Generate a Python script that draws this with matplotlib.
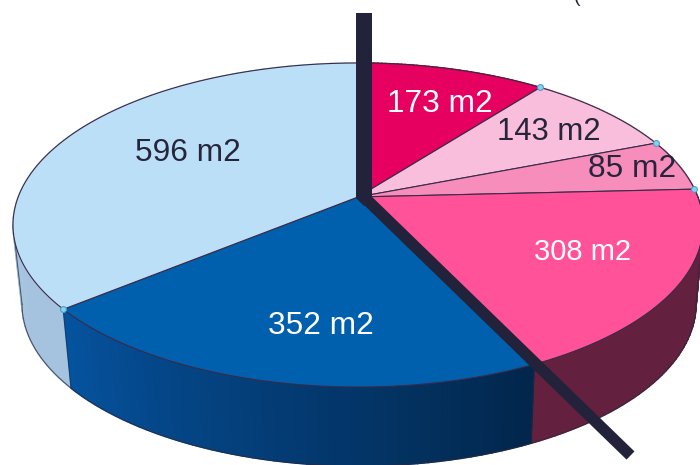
import numpy as np
import matplotlib
matplotlib.use("Agg")
import matplotlib.pyplot as plt
from matplotlib.colors import to_rgb

plt.rcParams['font.family'] = ['Liberation Sans', 'DejaVu Sans']

# Data, clockwise from 12 o'clock
labels = ["173 m2", "143 m2", "85 m2", "308 m2", "352 m2", "596 m2"]
values = [173, 143, 85, 308, 352, 596]
top_colors = ["#E6005F", "#F8BEDB", "#F78DBB", "#FF5298", "#0060AE", "#BCDFF8"]
side_left = ["#A3082F", "#B58AA0", "#B06488", "#64203F", "#05539F", "#A5C3DE"]
side_right = ["#A3082F", "#B58AA0", "#B06488", "#64203F", "#02264B", "#A9C7E2"]
text_colors = ["white", "#26263A", "#26263A", "white", "white", "#26263A"]
label_sizes = [22.8, 22.4, 22.8, 21, 22.8, 22.8]
label_xy = [(440, 104), (549, 132), (632, 169), (583, 252), (321, 326), (188, 153)]

# Perspective projection of the disc (pixel units)
CX, CY, RX, RY = 358, 225, 345, 162
CX2, CY2, RX2, RY2 = 359, 304, 337, 162
K = 0.173


def project(theta, cx, cy, rx, ry):
    x, y = np.sin(theta), np.cos(theta)
    d = 1 + K * y
    return cx + rx * x * np.sqrt(1 - K ** 2) / d, cy - ry * (y + K) / d


fig = plt.figure(figsize=(7, 4.65), dpi=100)
ax = fig.add_axes([0, 0, 1, 1])
ax.set_xlim(0, 700)
ax.set_ylim(465, 0)
ax.axis("off")

edges = np.concatenate([[0], np.cumsum(values)]) / sum(values) * 2 * np.pi
apex_x, apex_y = CX, CY - RY * K

# Side walls, drawn as thin strips so the outline stays tangent at both ends
draw_order = [0, 1, 2, 5, 3, 4]
for i in draw_order:
    a, b = edges[i], edges[i + 1]
    n = 48
    c0, c1 = np.array(to_rgb(side_left[i])), np.array(to_rgb(side_right[i]))
    # the 352 wall runs right-to-left as the angle grows
    if i == 4:
        c0, c1 = c1, c0
    steps = np.linspace(a, b, n + 1)
    for j in range(n):
        t = np.linspace(steps[j], steps[j + 1], 6)
        ux, uy = project(t, CX, CY, RX, RY)
        lx, ly = project(t, CX2, CY2, RX2, RY2)
        col = c0 + (c1 - c0) * (j + 0.5) / n
        ax.fill(np.r_[ux, lx[::-1]], np.r_[uy, ly[::-1]], color=col,
                ec=col, lw=1.1, zorder=1)

# Outline of the wall: near rim plus the two tangent sides
tt = np.linspace(0, 2 * np.pi, 1441)
lx, ly = project(tt, CX2, CY2, RX2, RY2)
ux, uy = project(tt, CX, CY, RX, RY)
il, ir = np.argmin(lx), np.argmax(lx)
jl, jr = np.argmin(ux), np.argmax(ux)
ax.plot(lx[ir:il + 1], ly[ir:il + 1], color="#2A2A3E", lw=0.8, alpha=0.75, zorder=1.5)
ax.plot([ux[jl], lx[il]], [uy[jl], ly[il]], color="#2A2A3E", lw=0.8, alpha=0.7, zorder=1.5)
ax.plot([ux[jr], lx[ir]], [uy[jr], ly[ir]], color="#2A2A3E", lw=0.8, alpha=0.7, zorder=1.5)

# Wall seams that are on the near side
for e in (edges[4], edges[5]):
    ex, ey = project(e, CX, CY, RX, RY)
    fx, fy = project(e, CX2, CY2, RX2, RY2)
    ax.plot([ex, fx], [ey, fy], color="#2A2A3E", lw=0.6, alpha=0.6, zorder=1.6)

# Top faces
for i in range(len(values)):
    t = np.linspace(edges[i], edges[i + 1], 200)
    x, y = project(t, CX, CY, RX, RY)
    ax.fill(np.r_[apex_x, x], np.r_[apex_y, y], facecolor=top_colors[i],
            edgecolor="#3A2A48", lw=0.8, alpha=1, zorder=2, joinstyle="round")

# Small handles on the rim
for e in edges[[1, 2, 3, 5]]:
    x, y = project(e, CX, CY, RX, RY)
    ax.plot(x, y, "o", ms=4.2, mfc="#86D3EE", mec="#4F9CC9", mew=0.8, zorder=3)

# Labels
for s, (x, y), c, fs in zip(labels, label_xy, text_colors, label_sizes):
    ax.text(x, y, s, color=c, fontsize=fs, ha="center", va="center", zorder=6)

# Dark cross arms
ax.plot([364, 364], [13, 197], color="#22223A", lw=11.5, solid_capstyle="butt", zorder=5)
ax.plot([364, 630.5], [197, 455.5], color="#22223A", lw=8.2, solid_capstyle="butt", zorder=5)
ax.fill([356, 372, 372, 364, 356], [190, 190, 196, 206, 198], color="#22223A", lw=0, zorder=5)

# Clipped fragment of a caption along the top edge
ax.text(577, 2, "(", color="#26263A", fontsize=14, ha="center", va="baseline", zorder=6)

fig.savefig("out.png", dpi=100, facecolor="white")
